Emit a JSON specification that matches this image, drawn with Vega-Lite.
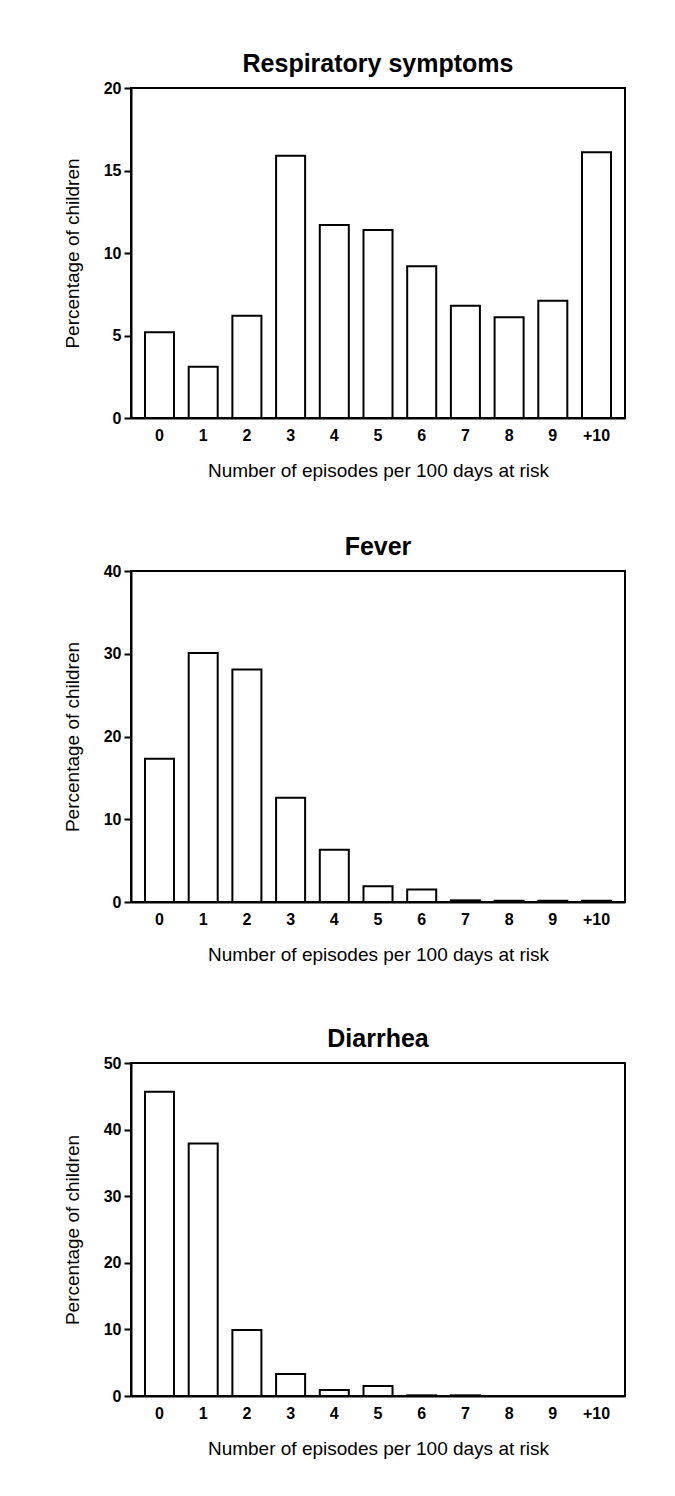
{
  "$schema": "https://vega.github.io/schema/vega-lite/v6.json",
  "background": "white",
  "padding": {"left": 62, "top": 51, "right": 10, "bottom": 10},
  "datasets": {
    "d": [
      {"panel": "Respiratory symptoms", "episodes": "0", "pct": 5.2},
      {"panel": "Respiratory symptoms", "episodes": "1", "pct": 3.1},
      {"panel": "Respiratory symptoms", "episodes": "2", "pct": 6.2},
      {"panel": "Respiratory symptoms", "episodes": "3", "pct": 15.9},
      {"panel": "Respiratory symptoms", "episodes": "4", "pct": 11.7},
      {"panel": "Respiratory symptoms", "episodes": "5", "pct": 11.4},
      {"panel": "Respiratory symptoms", "episodes": "6", "pct": 9.2},
      {"panel": "Respiratory symptoms", "episodes": "7", "pct": 6.8},
      {"panel": "Respiratory symptoms", "episodes": "8", "pct": 6.1},
      {"panel": "Respiratory symptoms", "episodes": "9", "pct": 7.1},
      {"panel": "Respiratory symptoms", "episodes": "+10", "pct": 16.1},
      {"panel": "Fever", "episodes": "0", "pct": 17.3},
      {"panel": "Fever", "episodes": "1", "pct": 30.1},
      {"panel": "Fever", "episodes": "2", "pct": 28.1},
      {"panel": "Fever", "episodes": "3", "pct": 12.6},
      {"panel": "Fever", "episodes": "4", "pct": 6.3},
      {"panel": "Fever", "episodes": "5", "pct": 1.9},
      {"panel": "Fever", "episodes": "6", "pct": 1.5},
      {"panel": "Fever", "episodes": "7", "pct": 0.2},
      {"panel": "Fever", "episodes": "8", "pct": 0.15},
      {"panel": "Fever", "episodes": "9", "pct": 0.15},
      {"panel": "Fever", "episodes": "+10", "pct": 0.15},
      {"panel": "Diarrhea", "episodes": "0", "pct": 45.7},
      {"panel": "Diarrhea", "episodes": "1", "pct": 37.9},
      {"panel": "Diarrhea", "episodes": "2", "pct": 9.9},
      {"panel": "Diarrhea", "episodes": "3", "pct": 3.3},
      {"panel": "Diarrhea", "episodes": "4", "pct": 0.9},
      {"panel": "Diarrhea", "episodes": "5", "pct": 1.5},
      {"panel": "Diarrhea", "episodes": "6", "pct": 0.1},
      {"panel": "Diarrhea", "episodes": "7", "pct": 0.1},
      {"panel": "Diarrhea", "episodes": "8", "pct": 0},
      {"panel": "Diarrhea", "episodes": "9", "pct": 0},
      {"panel": "Diarrhea", "episodes": "+10", "pct": 0}
    ]
  },
  "config": {
    "font": "Liberation Sans",
    "view": {"stroke": "black", "strokeWidth": 2},
    "axis": {
      "domainColor": "black", "domainWidth": 2,
      "tickColor": "black", "tickWidth": 2, "tickSize": 7,
      "labelColor": "black", "labelFont": "Liberation Sans", "labelFontWeight": "bold", "labelFontSize": 16,
      "titleColor": "black", "titleFont": "Liberation Sans", "titleFontWeight": "normal", "titleFontSize": 19,
      "grid": false
    },
    "title": {"font": "Liberation Sans", "fontWeight": "bold", "fontSize": 25, "color": "black", "anchor": "middle", "frame": "group", "offset": 3}
  },
  "spacing": 61,
  "vconcat": [
    {
      "spacing": 53,
      "vconcat": [
        {
          "title": "Respiratory symptoms",
          "width": 494, "height": 330,
          "data": {"name": "d"},
          "transform": [{"filter": "datum.panel === 'Respiratory symptoms'"}],
          "mark": {"type": "bar", "fill": "white", "stroke": "black", "strokeWidth": 2},
          "encoding": {
            "x": {"field": "episodes", "type": "nominal", "sort": ["0","1","2","3","4","5","6","7","8","9","+10"],
                  "scale": {"paddingInner": 0.336, "paddingOuter": 0.32},
                  "axis": {"title": "Number of episodes per 100 days at risk", "labelAngle": 0, "ticks": false, "labelPadding": 9, "titlePadding": 18}},
            "y": {"field": "pct", "type": "quantitative", "scale": {"domain": [0, 20]},
                  "axis": {"title": "Percentage of children", "values": [0,5,10,15,20], "titlePadding": 21, "labelPadding": 3}}
          }
        },
        {
          "title": "Fever",
          "width": 494, "height": 331,
          "data": {"name": "d"},
          "transform": [{"filter": "datum.panel === 'Fever'"}],
          "mark": {"type": "bar", "fill": "white", "stroke": "black", "strokeWidth": 2},
          "encoding": {
            "x": {"field": "episodes", "type": "nominal", "sort": ["0","1","2","3","4","5","6","7","8","9","+10"],
                  "scale": {"paddingInner": 0.336, "paddingOuter": 0.32},
                  "axis": {"title": "Number of episodes per 100 days at risk", "labelAngle": 0, "ticks": false, "labelPadding": 9, "titlePadding": 18}},
            "y": {"field": "pct", "type": "quantitative", "scale": {"domain": [0, 40]},
                  "axis": {"title": "Percentage of children", "values": [0,10,20,30,40], "titlePadding": 21, "labelPadding": 3}}
          }
        }
      ]
    },
    {
      "title": "Diarrhea",
      "width": 494, "height": 333,
      "data": {"name": "d"},
      "transform": [{"filter": "datum.panel === 'Diarrhea'"}],
      "mark": {"type": "bar", "fill": "white", "stroke": "black", "strokeWidth": 2},
      "encoding": {
        "x": {"field": "episodes", "type": "nominal", "sort": ["0","1","2","3","4","5","6","7","8","9","+10"],
              "scale": {"paddingInner": 0.336, "paddingOuter": 0.32},
              "axis": {"title": "Number of episodes per 100 days at risk", "labelAngle": 0, "ticks": false, "labelPadding": 9, "titlePadding": 18}},
        "y": {"field": "pct", "type": "quantitative", "scale": {"domain": [0, 50]},
              "axis": {"title": "Percentage of children", "values": [0,10,20,30,40,50], "titlePadding": 21, "labelPadding": 3}}
      }
    }
  ]
}
